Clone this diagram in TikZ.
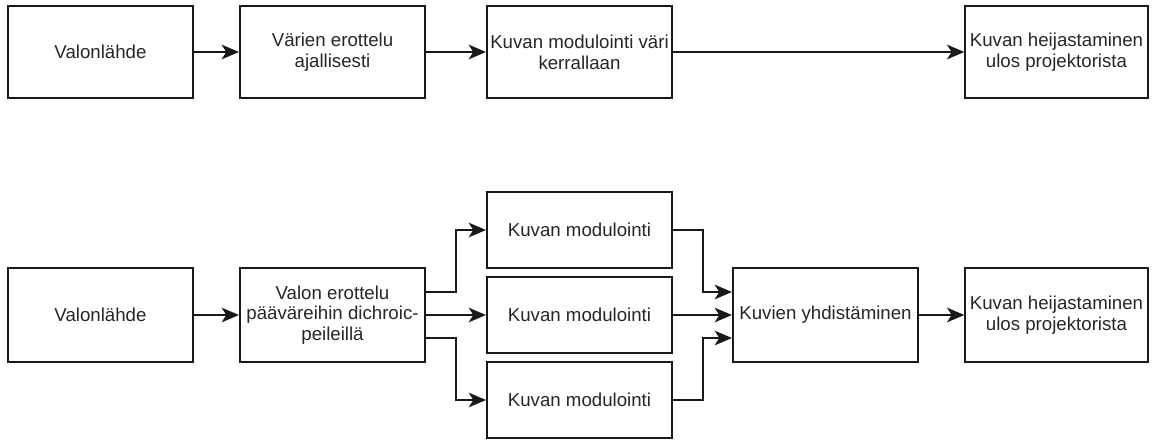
\documentclass[tikz,border=0pt]{standalone}
\usepackage{fontspec}
\setmainfont{Liberation Sans}
\usetikzlibrary{arrows.meta,calc}
\begin{document}
\begin{tikzpicture}[x=0.75pt,y=-0.75pt,
  box/.style={draw=black!90, line width=1.3pt, rectangle, minimum width=139pt, minimum height=69pt, inner sep=1pt, align=center, font=\fontsize{14}{15.5}\selectfont, text=black!85},
  modbox/.style={box, minimum height=57pt},
  arr/.style={draw=black!90, line width=1.3pt, -{Stealth[length=13pt,width=11pt,inset=3.5pt]}}
]
\useasboundingbox (0,0) rectangle (1152,439);
% top row
\node[box] (t1) at (100.5,52) {Valonlähde};
\node[box] (t2) at (332.5,52) {Värien erottelu\\ajallisesti};
\node[box] (t3) at (579.5,52) {Kuvan modulointi väri\\kerrallaan};
\node[box, minimum width=137pt] (t4) at (1056.5,52) {Kuvan heijastaminen\\ulos projektorista};
\draw[arr] (t1.east) -- (t2.west);
\draw[arr] (t2.east) -- (t3.west);
\draw[arr] (t3.east) -- (t4.west);
% bottom row
\node[box, minimum height=70.5pt] (b1) at (100.5,315) {Valonlähde};
\node[box, minimum height=70.5pt] (b2) at (332.5,315) {Valon erottelu\\pääväreihin dichroic-\\peileillä};
\node[modbox] (m1) at (579.5,230) {Kuvan modulointi};
\node[modbox] (m2) at (579.5,315) {Kuvan modulointi};
\node[modbox] (m3) at (579.5,400) {Kuvan modulointi};
\node[box, minimum height=70.5pt] (k) at (825.5,315) {Kuvien yhdistäminen};
\node[box, minimum height=70.5pt, minimum width=137pt] (b4) at (1056.5,315) {Kuvan heijastaminen\\ulos projektorista};
\draw[arr] (b1.east) -- (b2.west);
\draw[arr] ($(b2.east)+(0,-23)$) -- ++(30,0) |- (m1.west);
\draw[arr] (b2.east) -- (m2.west);
\draw[arr] ($(b2.east)+(0,23)$) -- ++(30,0) |- (m3.west);
\draw[arr] (m1.east) -- ++(30,0) |- ($(k.west)+(0,-23)$);
\draw[arr] (m2.east) -- (k.west);
\draw[arr] (m3.east) -- ++(30,0) |- ($(k.west)+(0,23)$);
\draw[arr] (k.east) -- (b4.west);
\end{tikzpicture}
\end{document}
